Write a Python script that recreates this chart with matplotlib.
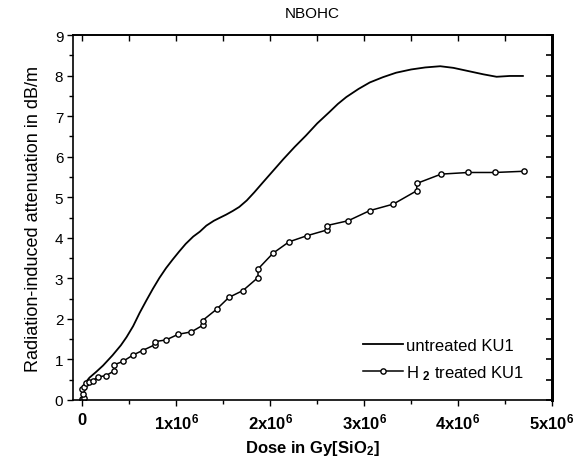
import matplotlib
matplotlib.use("Agg")
import matplotlib.pyplot as plt
from matplotlib.ticker import FixedLocator, MultipleLocator, NullFormatter
import numpy as np

plt.rcParams['font.family'] = ['Liberation Sans', 'DejaVu Sans']
plt.rcParams['mathtext.fontset'] = 'custom'
plt.rcParams['mathtext.rm'] = 'Liberation Sans'
plt.rcParams['mathtext.it'] = 'Liberation Sans'
plt.rcParams['mathtext.bf'] = 'Liberation Sans:bold'

title = "NBOHC"
xlabel = r"$\mathbf{Dose\ in\ Gy[SiO_2]}$"
ylabel = "Radiation-induced attenuation in dB/m"

# dose in units of 1e6 Gy
untreated_dose = [0.0, 0.03, 0.075, 0.15, 0.22, 0.32, 0.41, 0.47, 0.54, 0.61, 0.68,
                  0.75, 0.82, 0.89, 0.96, 1.03, 1.1, 1.18, 1.25, 1.32, 1.4, 1.46, 1.53,
                  1.6, 1.67, 1.75, 1.83, 1.92, 2.03, 2.14, 2.26, 2.38, 2.5, 2.63, 2.72,
                  2.81, 2.94, 3.06, 3.2, 3.34, 3.5, 3.65, 3.81, 3.95, 4.13, 4.27, 4.41,
                  4.55, 4.69]
untreated_att = [0.27, 0.42, 0.55, 0.7, 0.85, 1.1, 1.35, 1.55, 1.82, 2.15, 2.45,
                 2.74, 3.01, 3.25, 3.46, 3.66, 3.85, 4.03, 4.15, 4.3, 4.42, 4.49, 4.57,
                 4.66, 4.76, 4.92, 5.12, 5.36, 5.65, 5.94, 6.24, 6.52, 6.82, 7.1, 7.3,
                 7.47, 7.67, 7.83, 7.96, 8.07, 8.15, 8.2, 8.23, 8.19, 8.1, 8.03, 7.97,
                 7.99, 7.99]

h2_dose = [0.0, 0.02, 0.01, 0.0, 0.02, 0.04, 0.07, 0.11, 0.17, 0.25, 0.34, 0.34,
           0.43, 0.54, 0.64, 0.77, 0.77, 0.89, 1.02, 1.16, 1.28, 1.28, 1.43, 1.56,
           1.71, 1.87, 1.87, 2.03, 2.2, 2.39, 2.6, 2.6, 2.83, 3.06, 3.31, 3.56, 3.56,
           3.82, 4.11, 4.39, 4.7]
h2_att = [0.02, 0.06, 0.16, 0.26, 0.32, 0.42, 0.45, 0.48, 0.57, 0.6, 0.72, 0.87,
          0.95, 1.11, 1.22, 1.36, 1.44, 1.48, 1.62, 1.68, 1.84, 1.96, 2.24, 2.53,
          2.7, 3.02, 3.23, 3.62, 3.9, 4.05, 4.19, 4.3, 4.42, 4.67, 4.83, 5.16, 5.34,
          5.57, 5.61, 5.61, 5.64]

xtick_values = [0, 1, 2, 3, 4, 5]
xtick_labels = [r"$\mathbf{0}$", r"$\mathbf{1x10^6}$", r"$\mathbf{2x10^6}$",
                r"$\mathbf{3x10^6}$", r"$\mathbf{4x10^6}$", r"$\mathbf{5x10^6}$"]
ytick_values = [0, 1, 2, 3, 4, 5, 6, 7, 8, 9]
legend_labels = ["untreated KU1", r"H $_{\mathbf{2}}$ treated KU1"]

fig = plt.figure(figsize=(5.87, 4.64), dpi=100)
ax = fig.add_axes([73/587, 1-401/464, (552-73)/587, (401-36)/464])

scale = 1e6
ax.plot(np.array(untreated_dose)*scale, untreated_att, color='black', lw=1.3,
        label=legend_labels[0])
ax.plot(np.array(h2_dose)*scale, h2_att, color='black', lw=1.1, marker='o',
        markersize=3.8, markerfacecolor='white', markeredgecolor='black',
        markeredgewidth=1.0, label=legend_labels[1])

ax.set_xlim(-0.1e6, 5e6)
ax.set_ylim(0, 9)

ax.xaxis.set_major_locator(FixedLocator([v*scale for v in xtick_values]))
ax.set_xticklabels(xtick_labels, fontsize=12)
ax.xaxis.set_minor_locator(MultipleLocator(0.5e6))
ax.set_yticks(ytick_values)
ax.set_yticklabels([str(v) for v in ytick_values], fontsize=11)
ax.yaxis.set_minor_locator(MultipleLocator(0.5))
ax.tick_params(which='major', direction='out', length=4, width=1, pad=3)
ax.tick_params(which='minor', direction='out', length=3, width=1)
ax.tick_params(axis='x', pad=4)

for s in ['left', 'bottom', 'top']:
    ax.spines[s].set_linewidth(1.2)
ax.spines['right'].set_linewidth(2.0)

top = ax.secondary_xaxis('top')
top.xaxis.set_major_locator(FixedLocator([v*scale for v in xtick_values]))
top.xaxis.set_minor_locator(MultipleLocator(0.5e6))
top.xaxis.set_major_formatter(NullFormatter())
top.tick_params(which='both', direction='in', length=4, width=1)
top.spines['top'].set_linewidth(1.2)

right = ax.secondary_yaxis('right')
right.set_yticks(ytick_values)
right.yaxis.set_minor_locator(MultipleLocator(0.5))
right.yaxis.set_major_formatter(NullFormatter())
right.tick_params(which='both', direction='in', length=4, width=1.2)
right.spines['right'].set_linewidth(2.0)

ax.set_title(title, fontsize=11, pad=13)
ax.set_xlabel(xlabel, fontsize=12, labelpad=5)
ax.set_ylabel(ylabel, fontsize=13, labelpad=9)

leg = ax.legend(loc='upper left', bbox_to_anchor=((363-73)/479, (401-339)/365),
                frameon=False, fontsize=12, handlelength=2.4, handletextpad=0.2,
                labelspacing=0.6, borderpad=0, borderaxespad=0)

fig.savefig("out.png", dpi=100)
